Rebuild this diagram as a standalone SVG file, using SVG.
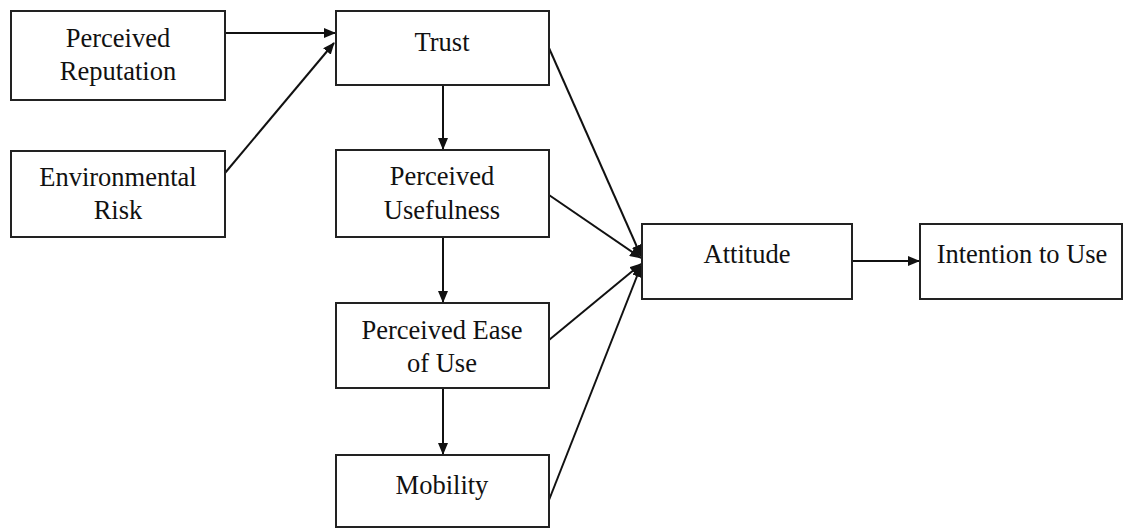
<svg xmlns="http://www.w3.org/2000/svg" width="1132" height="529" viewBox="0 0 1132 529">
<style>
.box{fill:#fff;stroke:#222;stroke-width:2}
.lbl{font-family:"Liberation Serif","Times New Roman",serif;font-size:26.5px;fill:#111;text-anchor:middle}
.con{stroke:#111;stroke-width:2;fill:none;marker-end:url(#ah)}
</style>
<defs>
<marker id="ah" markerWidth="12" markerHeight="10" refX="11" refY="5" orient="auto" markerUnits="userSpaceOnUse">
<path d="M0,0 L12,5 L0,10 Z" fill="#111"/>
</marker>
</defs>
<rect width="1132" height="529" fill="#fff"/>
<g id="connectors">
<line class="con" x1="225" y1="33" x2="335" y2="33"/>
<line class="con" x1="225" y1="173" x2="334" y2="43"/>
<line class="con" x1="443" y1="85" x2="443" y2="149"/>
<line class="con" x1="443" y1="237" x2="443" y2="302"/>
<line class="con" x1="443" y1="378" x2="443" y2="454"/>
<line class="con" x1="549" y1="48" x2="641" y2="256"/>
<line class="con" x1="549" y1="195" x2="641" y2="258"/>
<line class="con" x1="549" y1="340" x2="641" y2="264"/>
<line class="con" x1="549" y1="500" x2="641" y2="266"/>
<line class="con" x1="852" y1="261" x2="919" y2="261"/>
</g>
<g id="perceived-reputation">
<rect class="box" x="11" y="11" width="214" height="89"/>
<text class="lbl" x="118" y="47">Perceived</text>
<text class="lbl" x="118" y="80">Reputation</text>
</g>
<g id="environmental-risk">
<rect class="box" x="11" y="151" width="214" height="86"/>
<text class="lbl" x="118" y="186">Environmental</text>
<text class="lbl" x="118" y="219">Risk</text>
</g>
<g id="trust">
<rect class="box" x="336" y="11" width="213" height="74"/>
<text class="lbl" x="442" y="51">Trust</text>
</g>
<g id="perceived-usefulness">
<rect class="box" x="336" y="150" width="213" height="87"/>
<text class="lbl" x="442" y="185">Perceived</text>
<text class="lbl" x="442" y="219">Usefulness</text>
</g>
<g id="perceived-ease-of-use">
<rect class="box" x="336" y="303" width="213" height="85"/>
<text class="lbl" x="442" y="339">Perceived Ease</text>
<text class="lbl" x="442" y="372">of Use</text>
</g>
<g id="mobility">
<rect class="box" x="336" y="455" width="213" height="72"/>
<text class="lbl" x="442" y="494">Mobility</text>
</g>
<g id="attitude">
<rect class="box" x="642" y="224" width="210" height="75"/>
<text class="lbl" x="747" y="263">Attitude</text>
</g>
<g id="intention-to-use">
<rect class="box" x="920" y="224" width="202" height="75"/>
<text class="lbl" x="1022" y="263">Intention to Use</text>
</g>
</svg>
